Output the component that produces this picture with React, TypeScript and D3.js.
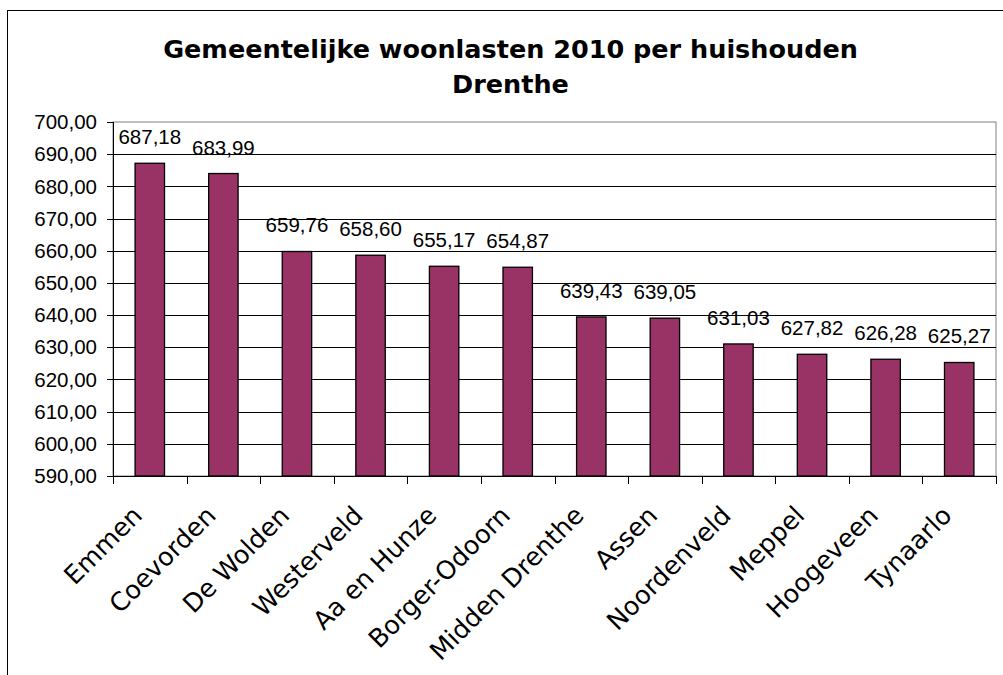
import React from "react";
import * as d3 from "d3";

const categories = [
  "Emmen",
  "Coevorden",
  "De Wolden",
  "Westerveld",
  "Aa en Hunze",
  "Borger-Odoorn",
  "Midden Drenthe",
  "Assen",
  "Noordenveld",
  "Meppel",
  "Hoogeveen",
  "Tynaarlo",
];
const values = [687.18, 683.99, 659.76, 658.6, 655.17, 654.87, 639.43, 639.05, 631.03, 627.82, 626.28, 625.27];
const yTicks = [590, 600, 610, 620, 630, 640, 650, 660, 670, 680, 690, 700];
const titleLines = ["Gemeentelijke woonlasten 2010 per huishouden", "Drenthe"];

const W = 1003;
const H = 675;
const plot = { left: 113, right: 996, top: 122, bottom: 476 };

const fmt = (v: number) => v.toFixed(2).replace(".", ",");

export default function App() {
  const x = d3
    .scaleBand<string>()
    .domain(categories)
    .range([plot.left, plot.right])
    .paddingInner(0.6)
    .paddingOuter(0.3);
  const y = d3.scaleLinear().domain([590, 700]).range([plot.bottom, plot.top]);
  const step = x.step();
  const boundaries = d3.range(categories.length + 1).map((i) => plot.left + i * step);

  return (
    <svg
      width={W}
      height={H}
      style={{ position: "absolute", left: 0, top: 0, background: "#fff" }}
    >
      <rect x={7.5} y={10.5} width={1010} height={700} fill="#fff" stroke="#000" strokeWidth={1} />
      {/* title */}
      <g fontFamily="DejaVu Sans" fontWeight="bold" fontSize={25.5} textAnchor="middle" fill="#000">
        <text x={510.5} y={58}>{titleLines[0]}</text>
        <text x={510.5} y={93}>{titleLines[1]}</text>
      </g>
      {/* plot area border (top/right grey) */}
      <rect
        x={plot.left}
        y={plot.top}
        width={plot.right - plot.left}
        height={plot.bottom - plot.top}
        fill="#fff"
        stroke="#808080"
        strokeWidth={1}
      />
      {/* gridlines */}
      {yTicks
        .filter((t) => t !== 590 && t !== 700)
        .map((t) => (
          <line
            key={"g" + t}
            x1={plot.left}
            x2={plot.right}
            y1={Math.round(y(t)) + 0.5}
            y2={Math.round(y(t)) + 0.5}
            stroke="#000"
            strokeWidth={1}
          />
        ))}
      {/* bars */}
      {values.map((v, i) => (
        <rect
          key={"b" + i}
          x={x(categories[i])!}
          y={y(v)}
          width={x.bandwidth()}
          height={plot.bottom - y(v)}
          fill="#993366"
          stroke="#000"
          strokeWidth={1.3}
        />
      ))}
      {/* axes */}
      <line x1={plot.left + 0.5} x2={plot.left + 0.5} y1={plot.top} y2={plot.bottom} stroke="#000" />
      <line x1={plot.left} x2={plot.right} y1={plot.bottom + 0.5} y2={plot.bottom + 0.5} stroke="#000" />
      {yTicks.map((t) => (
        <g key={"yt" + t}>
          <line
            x1={plot.left - 6}
            x2={plot.left}
            y1={Math.round(y(t)) + 0.5}
            y2={Math.round(y(t)) + 0.5}
            stroke="#000"
          />
          <text
            x={97}
            y={y(t)}
            dy="0.35em"
            textAnchor="end"
            fontFamily="Liberation Sans, Arial"
            fontSize={20.5}
            fill="#000"
          >
            {fmt(t)}
          </text>
        </g>
      ))}
      {boundaries.map((b, i) => (
        <line
          key={"xt" + i}
          x1={Math.round(b) + 0.5}
          x2={Math.round(b) + 0.5}
          y1={plot.bottom}
          y2={plot.bottom + 8}
          stroke="#000"
        />
      ))}
      {/* value labels */}
      {values.map((v, i) => (
        <text
          key={"v" + i}
          x={x(categories[i])! + x.bandwidth() / 2}
          y={y(v) - 19}
          textAnchor="middle"
          fontFamily="Liberation Sans, Arial"
          fontSize={20.5}
          fill="#000"
        >
          {fmt(v)}
        </text>
      ))}
      {/* category labels */}
      {categories.map((c, i) => {
        const cx = x(c)! + x.bandwidth() / 2 - 6;
        const cy = 517;
        return (
          <text
            key={"c" + i}
            transform={`translate(${cx},${cy}) rotate(-45)`}
            textAnchor="end"
            fontFamily="DejaVu Sans"
            fontSize={25.5}
            fill="#000"
          >
            {c}
          </text>
        );
      })}
    </svg>
  );
}
